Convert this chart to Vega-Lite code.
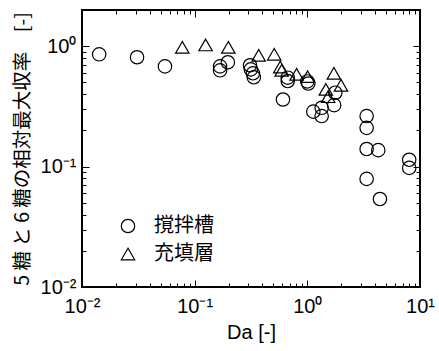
{
  "$schema": "https://vega.github.io/schema/vega-lite/v6.json",
  "width": 338,
  "height": 277,
  "autosize": {"type": "none"},
  "padding": {"left": 82, "top": 10, "right": 19, "bottom": 64},
  "background": "white",
  "config": {
    "view": {"stroke": "black", "strokeWidth": 2},
    "font": "Liberation Sans",
    "axis": {"labelColor": "black", "titleColor": "black", "tickColor": "black", "domain": false, "grid": false}
  },
  "data": {
    "values": [
      {"da": 0.0142, "y": 0.857, "type": "撹拌槽"},
      {"da": 0.0308, "y": 0.81, "type": "撹拌槽"},
      {"da": 0.0545, "y": 0.68, "type": "撹拌槽"},
      {"da": 0.168, "y": 0.681, "type": "撹拌槽"},
      {"da": 0.168, "y": 0.631, "type": "撹拌槽"},
      {"da": 0.197, "y": 0.736, "type": "撹拌槽"},
      {"da": 0.31, "y": 0.695, "type": "撹拌槽"},
      {"da": 0.315, "y": 0.643, "type": "撹拌槽"},
      {"da": 0.329, "y": 0.596, "type": "撹拌槽"},
      {"da": 0.335, "y": 0.552, "type": "撹拌槽"},
      {"da": 0.608, "y": 0.361, "type": "撹拌槽"},
      {"da": 0.67, "y": 0.548, "type": "撹拌槽"},
      {"da": 0.67, "y": 0.514, "type": "撹拌槽"},
      {"da": 1.0, "y": 0.51, "type": "撹拌槽"},
      {"da": 1.02, "y": 0.49, "type": "撹拌槽"},
      {"da": 1.13, "y": 0.286, "type": "撹拌槽"},
      {"da": 1.34, "y": 0.263, "type": "撹拌槽"},
      {"da": 1.34, "y": 0.308, "type": "撹拌槽"},
      {"da": 1.73, "y": 0.324, "type": "撹拌槽"},
      {"da": 1.77, "y": 0.411, "type": "撹拌槽"},
      {"da": 3.36, "y": 0.263, "type": "撹拌槽"},
      {"da": 3.36, "y": 0.21, "type": "撹拌槽"},
      {"da": 3.36, "y": 0.14, "type": "撹拌槽"},
      {"da": 4.26, "y": 0.137, "type": "撹拌槽"},
      {"da": 8.02, "y": 0.114, "type": "撹拌槽"},
      {"da": 8.02, "y": 0.0976, "type": "撹拌槽"},
      {"da": 3.36, "y": 0.0791, "type": "撹拌槽"},
      {"da": 4.41, "y": 0.0538, "type": "撹拌槽"},
      {"da": 0.0777, "y": 0.98, "type": "充填層"},
      {"da": 0.125, "y": 1.025, "type": "充填層"},
      {"da": 0.199, "y": 0.98, "type": "充填層"},
      {"da": 0.37, "y": 0.841, "type": "充填層"},
      {"da": 0.508, "y": 0.858, "type": "充填層"},
      {"da": 0.575, "y": 0.672, "type": "充填層"},
      {"da": 0.592, "y": 0.631, "type": "充填層"},
      {"da": 0.803, "y": 0.584, "type": "充填層"},
      {"da": 1.006, "y": 0.559, "type": "充填層"},
      {"da": 1.72, "y": 0.596, "type": "充填層"},
      {"da": 1.99, "y": 0.473, "type": "充填層"},
      {"da": 1.46, "y": 0.438, "type": "充填層"},
      {"da": 1.53, "y": 0.381, "type": "充填層"}
    ]
  },
  "resolve": {"axis": {"x": "independent", "y": "independent"}},
  "layer": [
    {
      "transform": [{"filter": "datum.type == '撹拌槽'"}],
      "mark": {"type": "point", "filled": false, "stroke": "black", "strokeWidth": 1.2, "size": 180, "opacity": 1},
      "encoding": {
        "x": {"field": "da", "type": "quantitative",
          "scale": {"type": "log", "domain": [0.01, 10], "nice": false},
          "axis": {"orient": "bottom", "values": [0.01, 0.1, 1, 10], "tickSize": -7, "tickWidth": 1, "labelPadding": 16,
            "labelFont": "Liberation Sans", "labelFontSize": 20, "labelFlush": false,
            "labelExpr": "datum.value < 0.05 ? '10⁻²' : datum.value < 0.5 ? '10⁻¹' : datum.value < 5 ? '10⁰' : '10¹'",
            "title": "Da [-]", "titleFont": "Liberation Sans", "titleFontSize": 20, "titleFontWeight": "normal", "titlePadding": 6}},
        "y": {"field": "y", "type": "quantitative",
          "scale": {"type": "log", "domain": [0.01, 2], "nice": false},
          "axis": {"orient": "left", "values": [0.01, 0.1, 1], "tickSize": -7, "tickWidth": 1, "labelPadding": 13,
            "labelFont": "Liberation Sans", "labelFontSize": 20, "labelFlush": false,
            "labelExpr": "datum.value < 0.05 ? '10⁻²' : datum.value < 0.5 ? '10⁻¹' : datum.value < 5 ? '10⁰' : '10¹'",
            "title": "5 糖 と 6 糖の相対最大収率　[-]", "titleFont": "Noto Sans CJK JP", "titleFontSize": 19.5, "titleFontWeight": "normal", "titlePadding": 8}},
        "shape": {"field": "type", "type": "nominal",
          "scale": {"domain": ["撹拌槽", "充填層"], "range": ["circle", "triangle-up"]},
          "legend": {"title": null, "orient": "none", "legendX": 36, "legendY": 206, "labelFont": "Noto Sans CJK JP", "labelFontSize": 20, "labelColor": "black",
            "symbolSize": 180, "symbolStrokeColor": "black", "symbolStrokeWidth": 1.2, "symbolFillColor": "transparent", "rowPadding": 8, "labelOffset": 16}}
      }
    },
    {
      "transform": [{"filter": "datum.type == '充填層'"}],
      "mark": {"type": "point", "filled": false, "stroke": "black", "strokeWidth": 1.2, "size": 180, "opacity": 1},
      "encoding": {
        "x": {"field": "da", "type": "quantitative",
          "axis": {"orient": "bottom", "values": [0.02,0.03,0.04,0.05,0.06,0.07,0.08,0.09,0.2,0.3,0.4,0.5,0.6,0.7,0.8,0.9,2,3,4,5,6,7,8,9], "tickSize": -4, "labels": false, "title": null}},
        "y": {"field": "y", "type": "quantitative",
          "axis": {"orient": "left", "values": [0.02,0.03,0.04,0.05,0.06,0.07,0.08,0.09,0.2,0.3,0.4,0.5,0.6,0.7,0.8,0.9], "tickSize": -4, "labels": false, "title": null}},
        "shape": {"field": "type", "type": "nominal"}
      }
    },
    {
      "transform": [{"filter": "false"}],
      "mark": {"type": "point", "filled": false, "stroke": "black"},
      "encoding": {
        "x": {"field": "da", "type": "quantitative",
          "axis": {"orient": "top", "values": [0.01, 0.1, 1, 10], "tickSize": -7, "labels": false, "title": null}},
        "y": {"field": "y", "type": "quantitative",
          "axis": {"orient": "right", "values": [0.01, 0.1, 1], "tickSize": -7, "labels": false, "title": null}}
      }
    },
    {
      "transform": [{"filter": "false"}],
      "mark": {"type": "point", "filled": false, "stroke": "black"},
      "encoding": {
        "x": {"field": "da", "type": "quantitative",
          "axis": {"orient": "top", "values": [0.02,0.03,0.04,0.05,0.06,0.07,0.08,0.09,0.2,0.3,0.4,0.5,0.6,0.7,0.8,0.9,2,3,4,5,6,7,8,9], "tickSize": -4, "labels": false, "title": null}},
        "y": {"field": "y", "type": "quantitative",
          "axis": {"orient": "right", "values": [0.02,0.03,0.04,0.05,0.06,0.07,0.08,0.09,0.2,0.3,0.4,0.5,0.6,0.7,0.8,0.9], "tickSize": -4, "labels": false, "title": null}}
      }
    }
  ]
}
